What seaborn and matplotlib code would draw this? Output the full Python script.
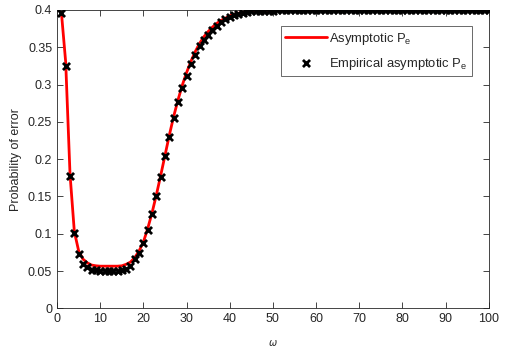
import numpy as np
import pandas as pd
import seaborn as sns
import matplotlib.pyplot as plt

# omega values 1..100
omega = list(range(1, 101))

# Asymptotic Pe (red curve)
pe_asym = [
    0.397, 0.330, 0.180, 0.103, 0.077, 0.066, 0.061, 0.058, 0.057, 0.0565,
    0.0565, 0.0565, 0.0565, 0.0565, 0.057, 0.059, 0.062, 0.068, 0.077, 0.089,
    0.107, 0.128, 0.152, 0.178, 0.205, 0.232, 0.257, 0.279, 0.299, 0.316,
    0.331, 0.344, 0.355, 0.364, 0.371, 0.377, 0.382, 0.386, 0.389, 0.392,
    0.394, 0.3955, 0.397, 0.398, 0.3985, 0.399, 0.399, 0.3993, 0.3995, 0.3995,
    0.3996, 0.3997, 0.3997, 0.3998, 0.3998, 0.3998, 0.3999, 0.3999, 0.3999, 0.3999,
    0.3999, 0.3999, 0.3999, 0.3999, 0.3999, 0.3999, 0.3999, 0.3999, 0.3999, 0.3999,
    0.3999, 0.3999, 0.3999, 0.3999, 0.3999, 0.3999, 0.3999, 0.3999, 0.3999, 0.3999,
    0.3999, 0.3999, 0.3999, 0.3999, 0.3999, 0.3999, 0.3999, 0.3999, 0.3999, 0.3999,
    0.3999, 0.3999, 0.3999, 0.3999, 0.3999, 0.3999, 0.3999, 0.3999, 0.3999, 0.3999,
]

# Empirical asymptotic Pe (black crosses)
pe_emp = [
    0.396, 0.325, 0.178, 0.101, 0.073, 0.060, 0.055, 0.052, 0.051, 0.050,
    0.050, 0.050, 0.050, 0.050, 0.051, 0.053, 0.057, 0.066, 0.074, 0.087,
    0.105, 0.126, 0.150, 0.176, 0.204, 0.230, 0.255, 0.276, 0.296, 0.311,
    0.328, 0.340, 0.351, 0.360, 0.367, 0.373, 0.379, 0.384, 0.388, 0.391,
    0.393, 0.395, 0.3965, 0.3975, 0.398, 0.3985, 0.3988, 0.399, 0.399, 0.3992,
    0.3993, 0.3994, 0.3995, 0.3995, 0.3995, 0.3995, 0.3995, 0.3995, 0.3995, 0.3995,
    0.3995, 0.3995, 0.3995, 0.3995, 0.3995, 0.3995, 0.3995, 0.3995, 0.3995, 0.3995,
    0.3995, 0.3995, 0.3995, 0.3995, 0.3995, 0.3995, 0.3995, 0.3995, 0.3995, 0.3995,
    0.3995, 0.3995, 0.3995, 0.3995, 0.3995, 0.3995, 0.3995, 0.3995, 0.3995, 0.3995,
    0.3995, 0.3995, 0.3995, 0.3995, 0.3995, 0.3995, 0.3995, 0.3995, 0.3995, 0.3995,
]

df = pd.DataFrame({"omega": omega, "asym": pe_asym, "emp": pe_emp})

sns.set_style("ticks")
plt.rcParams["font.family"] = ["Liberation Sans", "DejaVu Sans"]
plt.rcParams["xtick.direction"] = "in"
plt.rcParams["ytick.direction"] = "in"

fig = plt.figure(figsize=(5.14, 3.54), dpi=100)
ax = fig.add_axes([0.111, 0.129, 0.840, 0.843])

sns.lineplot(data=df, x="omega", y="asym", color="#ff0000", linewidth=2,
             label="Asymptotic P$_\\mathregular{e}$", ax=ax, zorder=2)
sns.scatterplot(data=df, x="omega", y="emp", marker="x", color="black",
                s=26, linewidth=2, label="Empirical asymptotic P$_\\mathregular{e}$",
                ax=ax, zorder=3)

ax.set_xlim(0, 100)
ax.set_ylim(0, 0.4)
ax.set_xticks(np.arange(0, 101, 10))
ax.set_yticks([0, 0.05, 0.1, 0.15, 0.2, 0.25, 0.3, 0.35, 0.4])
ax.set_yticklabels(["0", "0.05", "0.1", "0.15", "0.2", "0.25", "0.3", "0.35", "0.4"])
ax.tick_params(axis="both", labelsize=9, colors="#262626", length=4, width=0.6,
               top=True, right=True)
for s in ax.spines.values():
    s.set_visible(True)
    s.set_linewidth(0.6)
    s.set_color("#262626")

ax.set_xlabel("$\\omega$", fontsize=7, color="#262626", labelpad=9)
ax.set_ylabel("Probability of error", fontsize=9, color="#262626")

leg = ax.legend(loc="upper right", bbox_to_anchor=(0.977, 0.968), fontsize=9.4,
                frameon=True, fancybox=False, edgecolor="#262626",
                handlelength=3.2, borderpad=0.35, labelspacing=0.7,
                handletextpad=0.2)
leg.get_frame().set_linewidth(0.6)

fig.savefig("out.png", dpi=100)
